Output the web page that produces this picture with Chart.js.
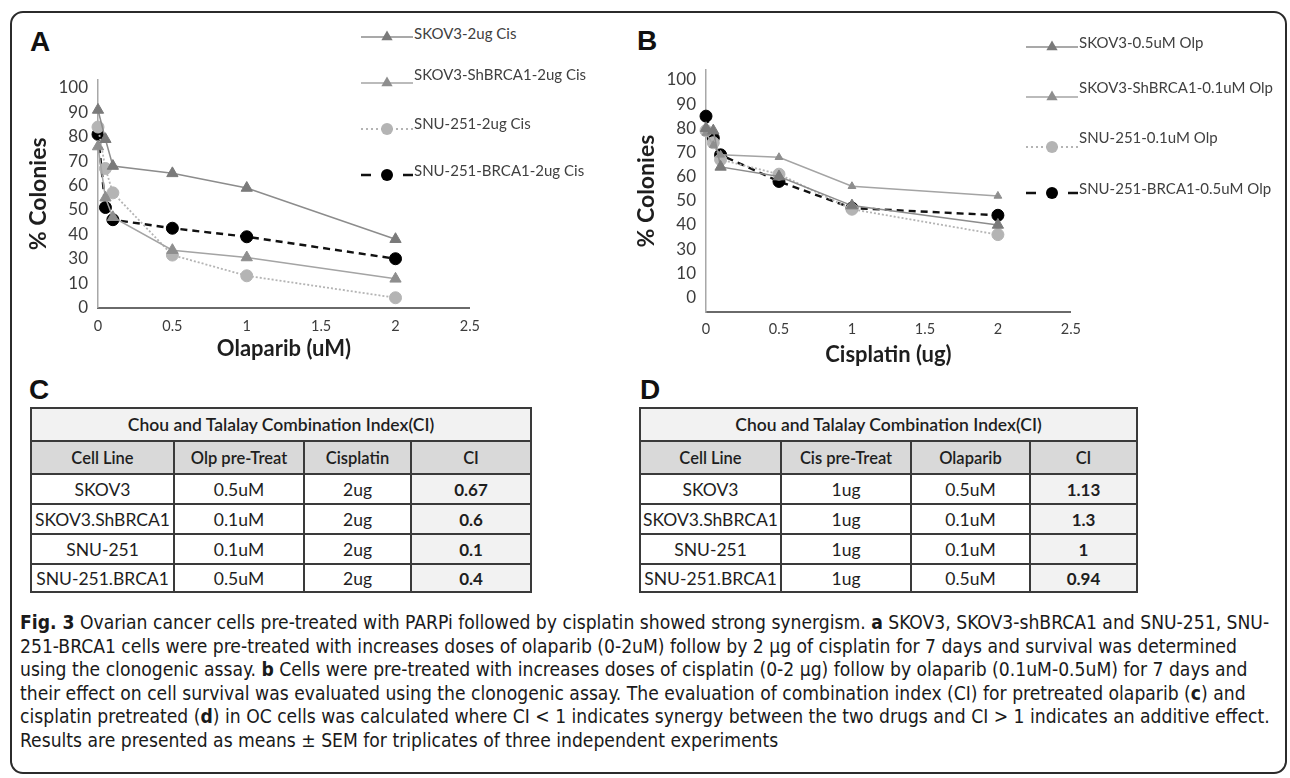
<!DOCTYPE html>
<html>
<head>
<meta charset="utf-8">
<title>Fig. 3</title>
<script src="https://cdn.jsdelivr.net/npm/chart.js@4.4.1/dist/chart.umd.min.js"></script>
<style>
  html, body { margin: 0; padding: 0; background: #fff; }
  body { width: 1290px; height: 778px; position: relative; overflow: hidden; font-family: Lato, "Noto Sans", sans-serif; color: #222; }
  #frame { position: absolute; left: 10px; top: 11px; width: 1277px; height: 763px; box-sizing: border-box; border: 2px solid #2b2b2b; border-radius: 13px; }
  .panel { position: absolute; font-family: "Liberation Sans", Arial, sans-serif; font-weight: bold; font-size: 28px; line-height: 1; color: #111; }
  .chartbox { position: absolute; }
  .legend { position: absolute; left: 0; top: 0; }
  .legend .item { position: absolute; height: 20px; width: 260px; }
  .legend svg { position: absolute; left: 0; top: 0; }
  .legend span { position: absolute; left: 53px; white-space: nowrap; font-family: Lato, sans-serif; font-size: 15px; line-height: 18px; color: #404040; }
  table.ci { position: absolute; border-collapse: collapse; font-family: Lato, sans-serif; font-size: 17.5px; color: #1e1e1e; table-layout: fixed; }
  table.ci td { border: 2px solid #3a3a3a; text-align: center; padding: 0; white-space: nowrap; }
  table.ci tr.title td { background: #f2f2f2; font-weight: 600; font-size: 17.5px; }
  table.ci tr.head td { background: #d9d9d9; font-weight: 600; font-size: 16.5px; }
  table.ci td.ci { background: #f2f2f2; font-weight: bold; font-size: 17px; }
  #caption { position: absolute; left: 20px; top: 611px; font-family: "Liberation Sans Narrow", "DejaVu Sans Condensed", sans-serif; font-stretch: condensed; color: #1a1a1a; }
  #caption div { white-space: nowrap; line-height: 23.5px; }
</style>
</head>
<body>
<div id="frame"></div>

<div class="panel" style="left:30px;top:28px">A</div>
<div class="panel" style="left:637px;top:27px">B</div>
<div class="panel" style="left:29px;top:376px">C</div>
<div class="panel" style="left:640px;top:376px">D</div>

<div class="chartbox" style="left:20px;top:60px;width:470px;height:300px"><canvas id="chartA"></canvas></div>
<div class="chartbox" style="left:630px;top:50px;width:460px;height:316px"><canvas id="chartB"></canvas></div>
<div class="legend" id="legendA"></div>
<div class="legend" id="legendB"></div>

<table class="ci" id="tableC"></table>
<table class="ci" id="tableD"></table>

<div id="caption">
  <div><b>Fig. 3</b> Ovarian cancer cells pre-treated with PARPi followed by cisplatin showed strong synergism. <b>a</b> SKOV3, SKOV3-shBRCA1 and SNU-251, SNU-</div>
  <div>251-BRCA1 cells were pre-treated with increases doses of olaparib (0-2uM) follow by 2 μg of cisplatin for 7 days and survival was determined</div>
  <div>using the clonogenic assay. <b>b</b> Cells were pre-treated with increases doses of cisplatin (0-2 μg) follow by olaparib (0.1uM-0.5uM) for 7 days and</div>
  <div>their effect on cell survival was evaluated using the clonogenic assay. The evaluation of combination index (CI) for pretreated olaparib (<b>c</b>) and</div>
  <div>cisplatin pretreated (<b>d</b>) in OC cells was calculated where CI &lt; 1 indicates synergy between the two drugs and CI &gt; 1 indicates an additive effect.</div>
  <div>Results are presented as means ± SEM for triplicates of three independent experiments</div>
</div>

<script>
// ---- data ----
const DOSES = [0, 0.05, 0.1, 0.5, 1, 2];          // same x points in both panels
const X_MAX = 2.5;
const Y_TICKS = [0, 10, 30, 40, 50, 60, 70, 80, 90, 100]; // the figure has no "20" label

const A_LABELS = ["SKOV3-2ug Cis", "SKOV3-ShBRCA1-2ug Cis", "SNU-251-2ug Cis", "SNU-251-BRCA1-2ug Cis"];
const A_SKOV3 = [91, 79, 68, 65, 59, 38];
const A_SHBRCA1 = [76, 55, 47, 33.5, 30.5, 13.5];
const A_SNU251 = [84, 67, 57, 31.5, 16, 4];
const A_BRCA1 = [81, 51, 46, 42.5, 39, 30];

const B_LABELS = ["SKOV3-0.5uM Olp", "SKOV3-ShBRCA1-0.1uM Olp", "SNU-251-0.1uM Olp", "SNU-251-BRCA1-0.5uM Olp"];
const B_SKOV3 = [80, 79, 64, 60, 48, 40];
const B_SHBRCA1 = [78, 73, 69, 68, 56, 52];
const B_SNU251 = [79, 74, 67, 61, 46.5, 36];
const B_BRCA1 = [85, 76, 69, 58, 47, 44];

const CI_TITLE = "Chou and Talalay Combination Index(CI)";
const CELL_LINES = ["SKOV3", "SKOV3.ShBRCA1", "SNU-251", "SNU-251.BRCA1"];
const C_HEAD = ["Cell Line", "Olp pre-Treat", "Cisplatin", "CI"];
const C_PRETREAT = ["0.5uM", "0.1uM", "0.1uM", "0.5uM"];
const C_CISPLATIN = ["2ug", "2ug", "2ug", "2ug"];
const C_CI = ["0.67", "0.6", "0.1", "0.4"];
const D_HEAD = ["Cell Line", "Cis pre-Treat", "Olaparib", "CI"];
const D_PRETREAT = ["1ug", "1ug", "1ug", "1ug"];
const D_OLAPARIB = ["0.5uM", "0.1uM", "0.1uM", "0.5uM"];
const D_CI = ["1.13", "1.3", "1", "0.94"];

// ---- styles ----
const TICK = "#3c3c3c";
const STYLE = [
  { color: "#8c8c8c", marker: "#7a7a7a", width: 1.5, dash: [], legendDash: [], shape: "triangle", r: 6.5 },
  { color: "#a4a4a4", marker: "#8e8e8e", width: 1.5, dash: [], legendDash: [], shape: "triangle", r: 6.5 },
  { color: "#b4b4b4", marker: "#b4b4b4", width: 1.8, dash: [2, 2], legendDash: [2, 3], shape: "circle", r: 6 },
  { color: "#111111", marker: "#000000", width: 2.4, dash: [7, 5], legendDash: [10, 32], shape: "circle", r: 6 },
];

// y axis whose labels are evenly spaced even though the values are not (0,10,30,...)
const LinearBase = Chart.LinearScale || Chart.registry.getScale("linear");
class LabelSlotScale extends LinearBase {
  static id = "labelslot";
  determineDataLimits() {
    this.min = this.options.slotMin;
    this.max = this.options.slotMax;
  }
  buildTicks() {
    return this.options.tickValues.map((v) => ({ value: v }));
  }
  toSlot(v) {
    const t = this.options.tickValues;
    for (let i = 0; i < t.length - 1; i++) {
      if (v <= t[i + 1] || i === t.length - 2) return i + (v - t[i]) / (t[i + 1] - t[i]);
    }
    return 0;
  }
  fromSlot(s) {
    const t = this.options.tickValues;
    const i = Math.max(0, Math.min(t.length - 2, Math.floor(s)));
    return t[i] + (s - i) * (t[i + 1] - t[i]);
  }
  getPixelForValue(v) {
    return v === null || v === undefined ? NaN : super.getPixelForValue(this.toSlot(v));
  }
  getValueForPixel(p) {
    return this.fromSlot(super.getValueForPixel(p));
  }
}
Chart.register(LabelSlotScale);

function series(values) {
  return DOSES.map((x, i) => ({ x, y: values[i] }));
}

function makeDatasets(labels, seriesList, smallTri) {
  return seriesList.map((vals, i) => {
    const s = STYLE[i];
    return {
      label: labels[i],
      data: series(vals),
      borderColor: s.color,
      borderWidth: s.width,
      borderDash: s.dash,
      pointStyle: s.shape,
      pointRadius: smallTri && i === 1 ? 4.5 : s.r,
      pointBackgroundColor: s.marker,
      pointBorderColor: s.marker,
      pointBorderWidth: 1,
      tension: 0,
      clip: false,
    };
  });
}

function lineChart(canvas, datasets, g) {
  return new Chart(canvas, {
    type: "line",
    data: { datasets },
    options: {
      animation: false,
      responsive: true,
      maintainAspectRatio: false,
      layout: { padding: { top: g.padTop, right: g.padRight, left: 0, bottom: 0 } },
      plugins: { legend: { display: false }, tooltip: { enabled: false } },
      scales: {
        x: {
          type: "linear", min: 0, max: X_MAX,
          grid: { display: false, drawTicks: false },
          border: { display: true, color: "#6a6a6a", width: 2 },
          ticks: { stepSize: 0.5, padding: g.xPad, color: TICK, font: { family: "Lato", size: 14.5 },
                   callback: (v) => String(v) },
          title: { display: true, text: g.xTitle, color: "#1e1e1e", padding: { top: 0, bottom: 0 },
                   font: { family: "Lato", size: 22, weight: "bold", lineHeight: 1 } },
          afterFit: (s) => { s.height = g.xHeight; },
        },
        y: {
          type: "labelslot", slotMin: g.slotMin, slotMax: g.slotMax, tickValues: Y_TICKS,
          grid: { display: false, drawTicks: false },
          border: { display: true, color: "#a8a8a8", width: 1.5 },
          ticks: { autoSkip: false, padding: 10, color: TICK, font: { family: "Lato", size: 17 },
                   callback: (v) => String(v) },
          title: { display: true, text: "% Colonies", color: "#1e1e1e", padding: { top: g.yTitlePad, bottom: 0 },
                   font: { family: "Lato", size: 23, weight: "bold", lineHeight: 1 } },
          afterFit: (s) => { s.width = g.yWidth; },
        },
      },
    },
  });
}

function svgLegendSample(s, r) {
  const dash = s.legendDash.length ? ` stroke-dasharray="${s.legendDash.join(" ")}"` : "";
  let mark;
  if (s.shape === "triangle") {
    const h = r * Math.sin(2 * Math.PI / 3);
    mark = `<polygon points="26,${10 - r} ${26 + h},${10 + r / 2} ${26 - h},${10 + r / 2}" fill="${s.marker}"/>`;
  } else {
    mark = `<circle cx="26" cy="10" r="${r}" fill="${s.marker}"/>`;
  }
  return `<svg width="52" height="20"><line x1="0" y1="10" x2="52" y2="10" stroke="${s.color}" stroke-width="${s.width}"${dash}/>${mark}</svg>`;
}

function buildLegend(el, labels, left, lineYs, textYs) {
  el.innerHTML = labels.map((lab, i) => {
    const top = lineYs[i] - 10;
    return `<div class="item" style="left:${left}px;top:${top}px">${svgLegendSample(STYLE[i], STYLE[i].r)}` +
      `<span style="top:${textYs[i] - top - 9}px">${lab}</span></div>`;
  }).join("");
}

function buildTable(el, left, top, colW, rowH, head, cols) {
  let html = `<colgroup>${colW.map((w) => `<col style="width:${w}px">`).join("")}</colgroup>`;
  html += `<tr class="title" style="height:${rowH[0]}px"><td colspan="4">${CI_TITLE}</td></tr>`;
  html += `<tr class="head" style="height:${rowH[1]}px">${head.map((h) => `<td>${h}</td>`).join("")}</tr>`;
  CELL_LINES.forEach((c, i) => {
    html += `<tr style="height:${rowH[i + 2]}px"><td>${c}</td><td>${cols[0][i]}</td><td>${cols[1][i]}</td><td class="ci">${cols[2][i]}</td></tr>`;
  });
  el.innerHTML = html;
  el.style.left = left + "px";
  el.style.top = top + "px";
  el.style.width = colW.reduce((a, b) => a + b, 0) + "px";
}

lineChart(document.getElementById("chartA"),
  makeDatasets(A_LABELS, [A_SKOV3, A_SHBRCA1, A_SNU251, A_BRCA1], false),
  { padTop: 12.5, padRight: 20, xHeight: 52.5, yWidth: 78, slotMin: 0, slotMax: 9.32, xPad: 10, yTitlePad: 7, xTitle: "Olaparib (uM)" });

lineChart(document.getElementById("chartB"),
  makeDatasets(B_LABELS, [B_SKOV3, B_SHBRCA1, B_SNU251, B_BRCA1], true),
  { padTop: 10, padRight: 16.5, xHeight: 54, yWidth: 76, slotMin: -0.6, slotMax: 9.4, xPad: 9, yTitlePad: 5.5, xTitle: "Cisplatin (ug)" });

buildLegend(document.getElementById("legendA"), A_LABELS, 361, [37, 83, 129, 175], [33, 74, 123, 170]);
buildLegend(document.getElementById("legendB"), B_LABELS, 1026, [47, 97, 147, 193], [42, 87, 137, 188]);

const ROW_H = [33, 33, 30, 30, 30, 28];
buildTable(document.getElementById("tableC"), 30, 407, [143, 130, 107, 120], ROW_H, C_HEAD, [C_PRETREAT, C_CISPLATIN, C_CI]);
buildTable(document.getElementById("tableD"), 639, 407, [141, 130, 119, 107], ROW_H, D_HEAD, [D_PRETREAT, D_OLAPARIB, D_CI]);

// fit caption font so the first line spans the same width as in the figure
function fitCaption() {
  const cap = document.getElementById("caption");
  cap.style.fontSize = "20px";
  const first = cap.firstElementChild;
  const range = document.createRange();
  range.selectNodeContents(first);
  const w = range.getBoundingClientRect().width;
  if (w > 0) cap.style.fontSize = (20 * 1250 / w).toFixed(2) + "px";
}
fitCaption();
if (document.fonts && document.fonts.ready) document.fonts.ready.then(fitCaption);
</script>
</body>
</html>
